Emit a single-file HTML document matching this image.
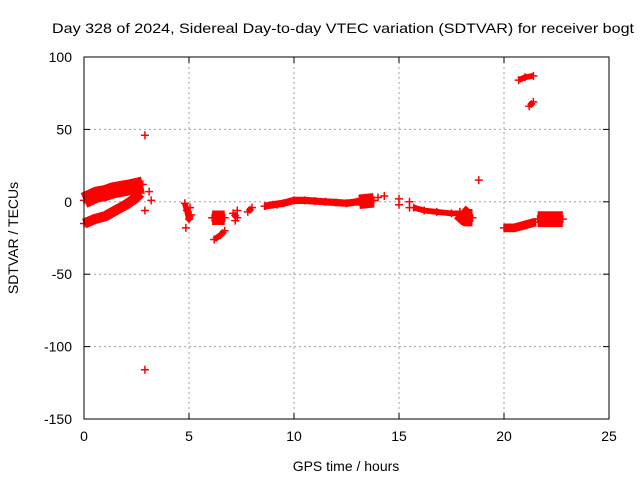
<!DOCTYPE html>
<html><head><meta charset="utf-8"><style>
body{margin:0;background:#fff;width:640px;height:480px;overflow:hidden}
text{font-family:"Liberation Sans",sans-serif;font-size:14px;fill:#000}
</style></head><body>
<svg id="chart" width="640" height="480" viewBox="0 0 640 480">
<text x="52" y="33" textLength="582" lengthAdjust="spacingAndGlyphs">Day 328 of 2024, Sidereal Day-to-day VTEC variation (SDTVAR) for receiver bogt</text>
<text x="346" y="471" text-anchor="middle">GPS time / hours</text>
<text transform="translate(18,238) rotate(-90)" text-anchor="middle">SDTVAR / TECUs</text>
<g id="grid"></g><g id="ticks"></g><g id="marks"></g>
<rect x="84" y="57" width="525" height="362" fill="none" stroke="#000" stroke-width="1"/>
</svg>
<script>
const xTicks=[0,5,10,15,20,25];
const yTicks=[100,50,0,-50,-100,-150];
// tracks: hours, values, band thickness (TECU)
const trackHours=[
 [0,0.3,0.6,1,1.4,1.8,2.2,2.5,2.8],
 [0,0.5,1,1.5,2,2.4,2.7],
 [4.8,4.9,5,5.1],
 [6.1,6.4,6.7],
 [6.2,6.5,6.7],
 [7.1,7.3],
 [7.8,8],
 [8.6,9,9.5,10,10.5,11,11.5,12,12.5,13,13.1],
 [13.1,13.8],
 [15.7,16.2,16.8,17.5,17.9],
 [17.9,18.2,18.5],
 [20,20.5,21,21.5],
 [21.6,22,22.4,22.8],
 [20.7,21,21.4],
 [21.2,21.4]
];
const trackValues=[
 [1,3,5,6,8,9,10,11,12],
 [-15,-12,-10,-6,-2,2,6],
 [-1,-6,-12,-9],
 [-11,-11,-11],
 [-26,-23,-20],
 [-8,-11],
 [-7,-4],
 [-3,-2,-1,1,1,0.5,0,-0.5,-1,0,0],
 [0,1],
 [-4,-6,-7,-8,-8],
 [-7,-11,-11],
 [-18,-18,-16,-14],
 [-12,-12,-12,-12],
 [84,86,87],
 [66,69]
];
const trackThick=[11,7,4,10,4,4,4,5,10,4,12,6,11,4,4];
const extraHours=[2.9,2.9,2.9,3.1,3.2,4.85,5.05,7.2,14,14.3,15,15,15.5,15.5,18.8,7.3,9.2];
const extraValues=[46,-116,-6,7,1,-18,-4,-13,3,4,2,-2,-4,0,15,-6,-2];
const X=h=>84+h*21, Y=v=>201.8-v*1.448;
const NS='http://www.w3.org/2000/svg';
function mk(t,a,p){const e=document.createElementNS(NS,t);for(const k in a)e.setAttribute(k,a[k]);p.appendChild(e);return e;}
const grid=document.getElementById('grid'),ticks=document.getElementById('ticks'),marks=document.getElementById('marks');
xTicks.forEach(t=>{
 if(t>0&&t<25){const l=mk('line',{x1:X(t),x2:X(t),y1:57,y2:419,stroke:'#a0a0a0','stroke-dasharray':'2,3'},grid);
 
 }
 mk('line',{x1:X(t),x2:X(t),y1:419,y2:413,stroke:'#000'},ticks);
 mk('line',{x1:X(t),x2:X(t),y1:57,y2:63,stroke:'#000'},ticks);
 const tx=mk('text',{x:X(t),y:441,'text-anchor':'middle'},ticks);tx.textContent=t;
 
 
});
yTicks.forEach(t=>{
 if(t<100&&t>-150){const l=mk('line',{x1:84,x2:609,y1:Y(t),y2:Y(t),stroke:'#a0a0a0','stroke-dasharray':'2,3'},grid);
 
 }
 mk('line',{x1:84,x2:90,y1:Y(t),y2:Y(t),stroke:'#000'},ticks);
 mk('line',{x1:609,x2:603,y1:Y(t),y2:Y(t),stroke:'#000'},ticks);
 const tx=mk('text',{x:72,y:Y(t)+5,'text-anchor':'end'},ticks);tx.textContent=t;
 
 
});
function plus(h,v){const x=X(h),y=Y(v);
 const p=mk('path',{d:`M${x-4},${y}h8M${x},${y-4}v8`,stroke:'#f00','stroke-width':1.5},marks);
 
 }
trackHours.forEach((hs,i)=>{
 const vs=trackValues[i];
 const pl=mk('polyline',{points:hs.map((h,j)=>X(h)+','+Y(vs[j])).join(' '),fill:'none',stroke:'#f00','stroke-width':trackThick[i]*1.448,'stroke-linecap':'butt','stroke-linejoin':'round'},marks);
 
 
 hs.forEach((h,j)=>plus(h,vs[j]));
});
extraHours.forEach((h,i)=>plus(h,extraValues[i]));
</script>
</body></html>
